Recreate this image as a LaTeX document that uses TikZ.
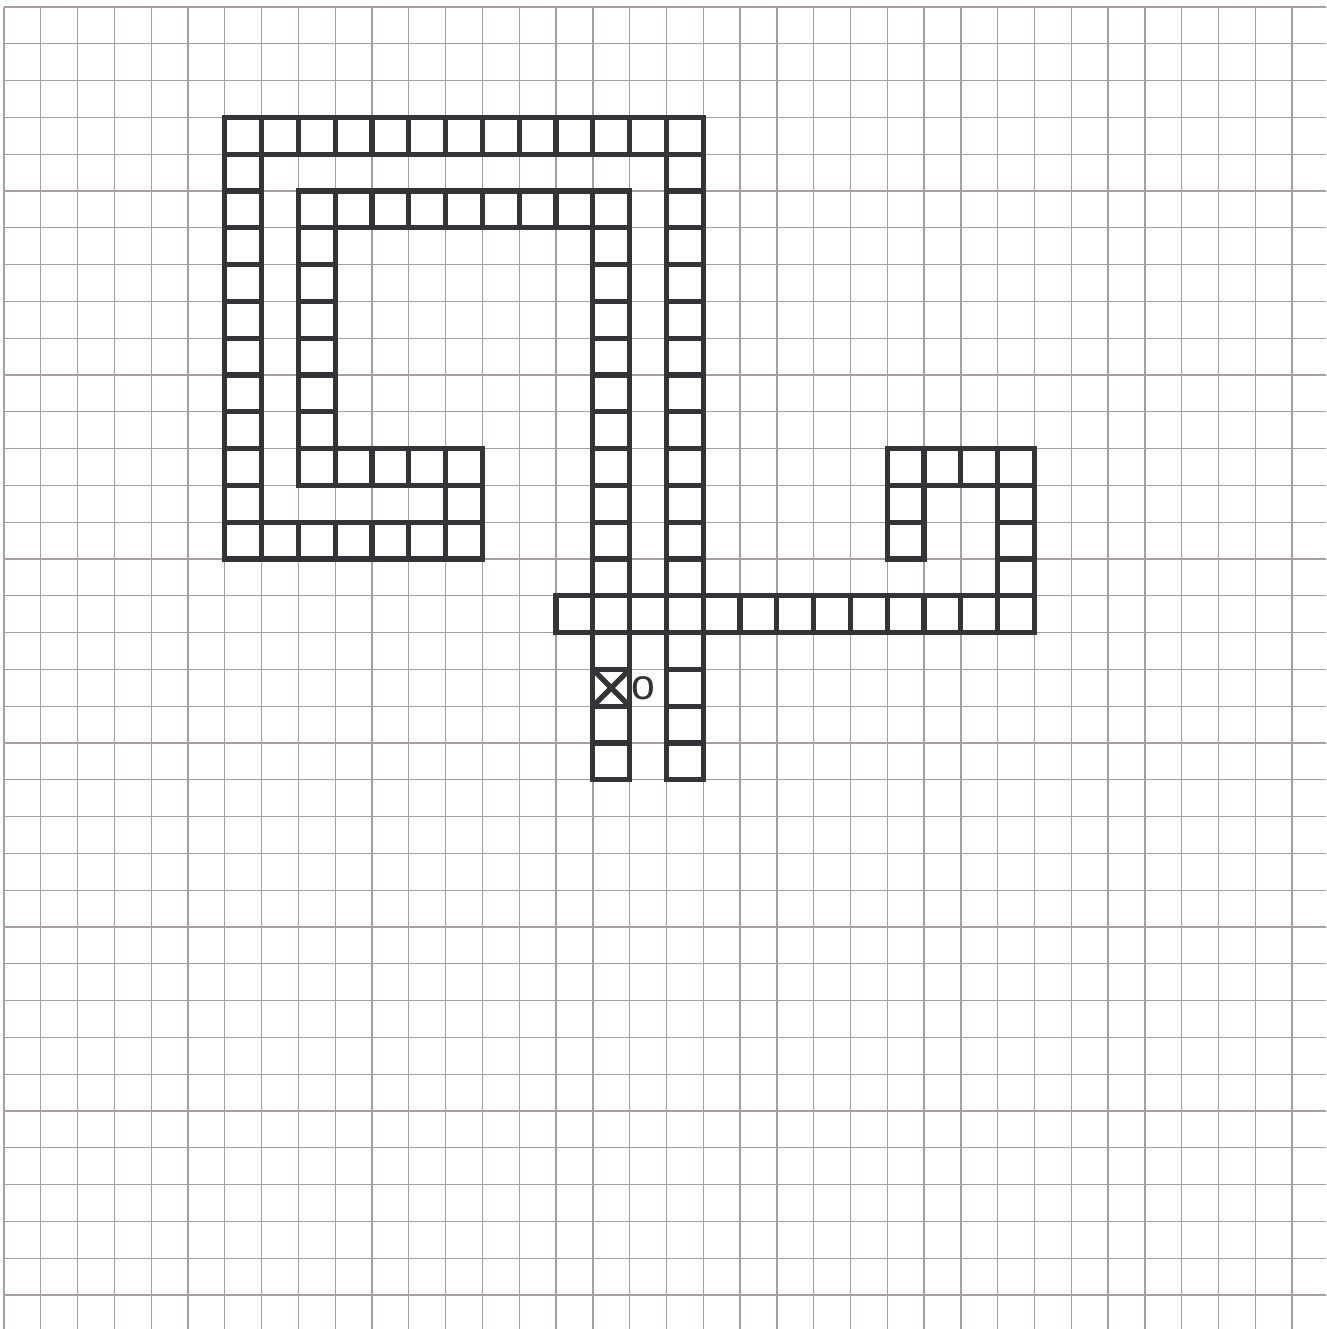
\documentclass[tikz,border=0pt]{standalone}
\usepackage{fontspec}
\setmainfont{Liberation Sans}
\usepackage{xcolor}
\definecolor{gridc}{RGB}{168,158,158}
\definecolor{ink}{RGB}{52,52,56}

\begin{document}
\begin{tikzpicture}[y=-1cm,
  cellbox/.style={draw=ink,line width=4.1pt},
  gridline/.style={gridc,line width=1.05pt}]
\useasboundingbox (-0.109,-0.190) rectangle (35.924,35.924);
% paper grid
\foreach \k in {0,...,35}{
  \draw[gridline] (\k,0) -- (\k,35.924);
  \draw[gridline] (0,\k) -- (35.924,\k);
}
% outer hook
\foreach \c in {6,...,18} \draw[cellbox] (\c,3) rectangle ++(1,1);
\foreach \r in {4,...,14} \draw[cellbox] (6,\r) rectangle ++(1,1);
\foreach \c in {7,...,12} \draw[cellbox] (\c,14) rectangle ++(1,1);
\foreach \r in {12,13} \draw[cellbox] (12,\r) rectangle ++(1,1);
% inner hook
\foreach \c in {8,...,11} \draw[cellbox] (\c,12) rectangle ++(1,1);
\foreach \r in {5,...,11} \draw[cellbox] (8,\r) rectangle ++(1,1);
\foreach \c in {9,...,16} \draw[cellbox] (\c,5) rectangle ++(1,1);
% two long legs
\foreach \r in {6,...,20} \draw[cellbox] (16,\r) rectangle ++(1,1);
\foreach \r in {4,...,20} \draw[cellbox] (18,\r) rectangle ++(1,1);
% cross bar and right hook
\foreach \c in {15,...,27} \draw[cellbox] (\c,16) rectangle ++(1,1);
\foreach \r in {12,...,15} \draw[cellbox] (27,\r) rectangle ++(1,1);
\foreach \c in {24,...,26} \draw[cellbox] (\c,12) rectangle ++(1,1);
\foreach \r in {13,14} \draw[cellbox] (24,\r) rectangle ++(1,1);
% start mark
\draw[ink,line width=4.1pt] (16,18) -- (17,19) (17,18) -- (16,19);
\node[ink,inner sep=0pt,font=\fontsize{33}{33}\selectfont] (origin) at (17.36,18.5) {o};
\end{tikzpicture}
\end{document}
